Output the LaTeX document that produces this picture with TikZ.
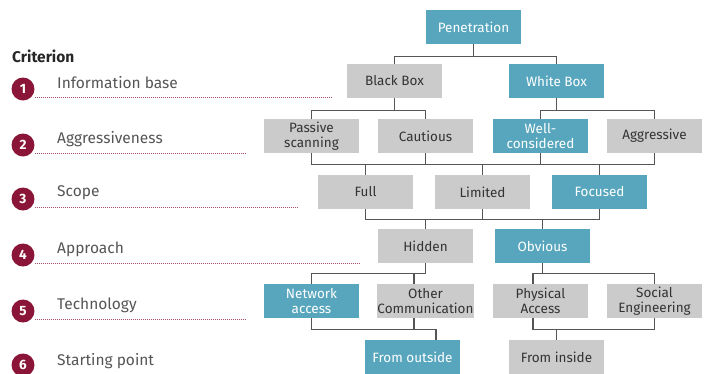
\documentclass[tikz,border=0pt]{standalone}
\usepackage{fontspec}
\setmainfont{Fira Sans}
\usetikzlibrary{calc,backgrounds}
\definecolor{boxgray}{HTML}{CBCBCB}
\definecolor{boxteal}{HTML}{58A6BD}
\definecolor{maroon}{HTML}{8A1538}
\definecolor{linegray}{HTML}{555555}
\definecolor{labelgray}{HTML}{555555}
\definecolor{textdark}{HTML}{333333}
\tikzset{
  tbox/.style={minimum width=95pt, minimum height=34pt, inner sep=0pt, align=center,
    font=\fontsize{13.5}{15.5}\selectfont},
  greybox/.style={tbox, fill=boxgray, text=textdark},
  tealbox/.style={tbox, fill=boxteal, text=white},
  conn/.style={draw=linegray, line width=1.1pt},
  numcirc/.style={circle, fill=maroon, text=white, minimum size=23pt, inner sep=0pt,
    font=\fontsize{13.5}{13.5}\selectfont\bfseries},
  crit/.style={anchor=west, text=labelgray, inner sep=0pt, font=\fontsize{15.5}{17}\selectfont},
  dots/.style={draw=maroon!75, line width=0.8pt, dash pattern=on 1pt off 1pt}
}
\begin{document}
\begin{tikzpicture}[x=1pt,y=-1pt]
\useasboundingbox (0,0) rectangle (711,373);
% nodes
\node[tealbox] (pen) at (473.5,27) {Penetration};
\node[greybox] (bb) at (394.5,81) {Black Box};
\node[tealbox] (wb) at (556.5,81) {White Box};
\node[greybox] (ps) at (311.5,136) {Passive\\scanning};
\node[greybox] (ca) at (425.5,136) {Cautious};
\node[tealbox] (wc) at (540.5,136) {Well-\\considered};
\node[greybox] (ag) at (654.5,136) {Aggressive};
\node[greybox] (fu) at (365.5,192) {Full};
\node[greybox] (li) at (482.5,192) {Limited};
\node[tealbox] (fo) at (599.5,192) {Focused};
\node[greybox] (hi) at (425.5,246) {Hidden};
\node[tealbox] (ob) at (542.5,246) {Obvious};
\node[tealbox] (na) at (311.5,301) {Network\\access};
\node[greybox] (oc) at (425.5,301) {Other\\Communication};
\node[greybox] (pa) at (540.5,301) {Physical\\Access};
\node[greybox] (se) at (654.5,301) {Social\\Engineering};
\node[tealbox] (fout) at (412.5,357) {From outside};
\node[greybox] (fin) at (556.5,357) {From inside};
\begin{scope}[on background layer]
% level 0 -> 1
\draw[conn] (pen.south) -- ++(0,12) -| (bb.north);
\draw[conn] (pen.south) -- ++(0,12) -| (wb.north);
% level 1 -> 2
\draw[conn] (bb.south) -- ++(0,12) -| (ps.north);
\draw[conn] (bb.south) -- ++(0,12) -| (ca.north);
\draw[conn] (wb.south) -- ++(0,12) -| (wc.north);
\draw[conn] (wb.south) -- ++(0,12) -| (ag.north);
% level 2 -> 3
\draw[conn] (ps.south) -- ++(0,11) -| (fu.north);
\draw[conn] (ca.south) -- ++(0,11) -| (li.north);
\draw[conn] (wc.south) -- ++(0,11) -| (fo.north);
\draw[conn] (ag.south) -- ++(0,11) -| (fo.north);
\draw[conn] (ps.south) -- ++(0,11) -| (ag.south);
% level 3 -> 4
\draw[conn] (fu.south) -- ++(0,10) -| (hi.north);
\draw[conn] (li.south) -- ++(0,10) -| (hi.north);
\draw[conn] (fo.south) -- ++(0,10) -| (ob.north);
\draw[conn] (li.south) -- ++(0,10) -| (ob.north);
% level 4 -> 5
\draw[conn] (hi.south) -- ++(0,10) -| (na.north);
\draw[conn] (hi.south) -- ++(0,10) -| ($(oc.north)+(-11.5,0)$);
\draw[conn] (ob.south) -- ++(0,10) -| ($(pa.north)+(-7.5,0)$);
\draw[conn] (ob.south) -- ++(0,10) -| (se.north);
\draw[conn] ($(oc.north)+(-11.5,0)$) -- ($(oc.south)+(-11.5,0)$);
\draw[conn] ($(pa.north)+(-7.5,0)$) -- ($(pa.south)+(-7.5,0)$);
% level 5 -> 6
\draw[conn] (na.south) -- ++(0,11) -| ($(fout.north)+(23.5,0)$);
\draw[conn] ($(oc.south)+(-11.5,0)$) -- ++(0,11) -| ($(fout.north)+(23.5,0)$);
\draw[conn] ($(pa.south)+(-7.5,0)$) -- ++(0,11) -| (fin.north);
\draw[conn] (se.south) -- ++(0,11) -| (fin.north);
\end{scope}
% left criteria
\node[anchor=west, inner sep=0pt, text=black!85, font=\fontsize{15.5}{17}\selectfont\bfseries] (crit) at (12,56) {Criterion};
\foreach \i/\y/\t/\e in {1/89/Information base/332, 2/145/Aggressiveness/246, 3/199/Scope/298, 4/255/Approach/359, 5/311/Technology/246}{
  \node[numcirc] (n\i) at (23,\y) {\i};
  \node[crit] (l\i) at (57,\y-6) {\t};
  \coordinate (e\i) at (\e,\y+8);
  \draw[dots] (n\i.east |- e\i) -- (e\i);
}
\node[numcirc] (n6) at (23,365) {6};
\node[crit] (l6) at (57,361) {Starting point};
\end{tikzpicture}
\end{document}
